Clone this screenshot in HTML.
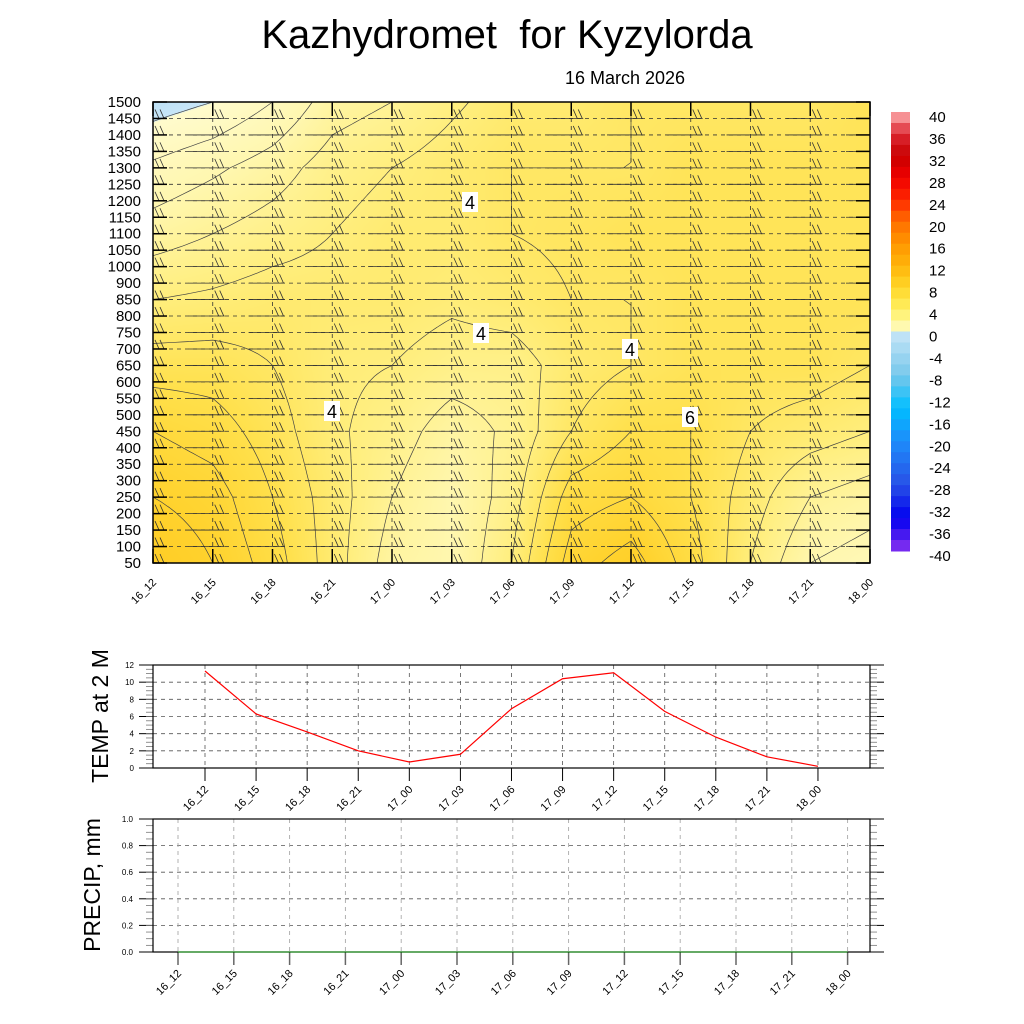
<!DOCTYPE html>
<html><head><meta charset="utf-8">
<style>
body{margin:0;background:#fff;}
#wrap{position:relative;width:1024px;height:1024px;overflow:hidden;font-family:"Liberation Sans",sans-serif;}
svg text{font-family:"Liberation Sans",sans-serif;}
</style></head>
<body>
<div id="wrap">
<canvas id="cv" width="717" height="461" style="position:absolute;left:153px;top:102px;"></canvas>
<svg id="sv" width="1024" height="1024" style="position:absolute;left:0;top:0;"></svg>
</div>
<script>
const times=["16_12","16_15","16_18","16_21","17_00","17_03","17_06","17_09","17_12","17_15","17_18","17_21","18_00"];
const levels=[50,100,150,200,250,300,350,400,450,500,550,600,650,700,750,800,850,900,1000,1050,1100,1150,1200,1250,1300,1350,1400,1450,1500];
const keyRows=[0,4,8,12,16,20,24,28];
const tRow50=[9,8,6.5,4.5,2.5,2,4,7.5,8.5,6.5,4,2,1.5];
const tRow250=[8,7.5,6,4.5,3,2,3.5,6.5,7,6,4.5,3,2.5];
const tRow450=[7,6.5,5.5,4.2,3.5,2.5,3.2,5,6,6,5,4.5,4];
const tRow650=[5.5,5.5,5,4.2,4,3.5,3.5,4.5,5,5.5,5.5,5.5,5];
const tRow850=[4,4.2,4.5,4.5,4.5,4.2,4.5,5,5,5.5,5.5,5.5,5.5];
const tRow1100=[2.5,3,3.5,4,4.5,4.5,5,5.2,5.5,5.5,5.5,5.5,5.5];
const tRow1300=[1.2,1.8,2.5,3.5,4,4.5,5,5,5,5.5,5.5,5.5,5.5];
const tRow1500=[-0.5,0,1,2.5,3,3.8,4.5,4.5,5,5,5,5,5.5];
const temp2m=[11.3,6.3,4.2,2.0,0.7,1.6,6.9,10.4,11.1,6.6,3.6,1.3,0.2];
const precip=[0,0,0,0,0,0,0,0,0,0,0,0,0];
const tempTicks=[0,2,4,6,8,10,12];
const precipTicks=["0.0","0.2","0.4","0.6","0.8","1.0"];
const cbLabels=[40,36,32,28,24,20,16,12,8,4,0,-4,-8,-12,-16,-20,-24,-28,-32,-36,-40];

const NS="http://www.w3.org/2000/svg";
const sv=document.getElementById('sv');
function el(tag,attrs,parent){const e=document.createElementNS(NS,tag);for(const k in attrs)e.setAttribute(k,attrs[k]);(parent||sv).appendChild(e);return e;}

const MX0=153,MX1=870,MY0=102,MY1=563;
const mx=i=>MX0+i*(MX1-MX0)/12;
const my=j=>MY1-j*(MY1-MY0)/28;
const rows=[tRow50,tRow250,tRow450,tRow650,tRow850,tRow1100,tRow1300,tRow1500];
function tAt(fi,fj){
  let k=0;while(k<keyRows.length-2&&fj>keyRows[k+1])k++;
  const a=(fj-keyRows[k])/(keyRows[k+1]-keyRows[k]);
  const i0=Math.min(11,Math.floor(fi)),b=fi-i0;
  const r0=rows[k],r1=rows[k+1];
  const v0=r0[i0]*(1-b)+r0[i0+1]*b,v1=r1[i0]*(1-b)+r1[i0+1]*b;
  return v0*(1-a)+v1*a;
}
const cstops=[[-2,[160,210,240]],[0,[200,230,248]],[0.01,[255,251,205]],[2,[255,247,175]],[4,[255,238,125]],[6,[255,224,75]],[8,[255,210,45]],[10,[255,200,30]]];
function tcol(t){
  if(t<=cstops[0][0])return cstops[0][1];
  for(let k=0;k<cstops.length-1;k++){if(t<=cstops[k+1][0]){const a=(t-cstops[k][0])/(cstops[k+1][0]-cstops[k][0]);return cstops[k][1].map((c,q)=>Math.round(c+(cstops[k+1][1][q]-c)*a));}}
  return cstops[cstops.length-1][1];
}
const cv=document.getElementById('cv'),ctx=cv.getContext('2d');
const img=ctx.createImageData(717,461);
for(let y=0;y<461;y++)for(let x=0;x<717;x++){
  const fi=x/717*12,fj=(461-y)/461*28;
  const c=tcol(tAt(fi,fj));const p=(y*717+x)*4;
  img.data[p]=c[0];img.data[p+1]=c[1];img.data[p+2]=c[2];img.data[p+3]=255;
}
ctx.putImageData(img,0,0);

// contour lines via marching squares
const NX=96,NY=84;
const gc=el('g',{stroke:'#444','stroke-width':0.7,fill:'none'});

let dpath='';
const G=[];for(let a=0;a<=NX;a++){G[a]=[];for(let b=0;b<=NY;b++)G[a][b]=tAt(a/NX*12,b/NY*28);}
const gx=a=>MX0+a/NX*(MX1-MX0), gy=b=>MY1-b/NY*(MY1-MY0);
for(let lv=0;lv<=9;lv++){
  for(let a=0;a<NX;a++)for(let b=0;b<NY;b++){
    const c=[[a,b],[a+1,b],[a+1,b+1],[a,b+1]];
    const pts=[];
    for(let e=0;e<4;e++){const p=c[e],q=c[(e+1)%4];const v1=G[p[0]][p[1]]-lv,v2=G[q[0]][q[1]]-lv;
      if((v1<0)!==(v2<0)){const s=v1/(v1-v2);pts.push([gx(p[0]+(q[0]-p[0])*s),gy(p[1]+(q[1]-p[1])*s)]);}}
    if(pts.length>=2)dpath+=`M${pts[0][0].toFixed(1)},${pts[0][1].toFixed(1)}L${pts[1][0].toFixed(1)},${pts[1][1].toFixed(1)}`;
    if(pts.length===4)dpath+=`M${pts[2][0].toFixed(1)},${pts[2][1].toFixed(1)}L${pts[3][0].toFixed(1)},${pts[3][1].toFixed(1)}`;
  }
}
el('path',{d:dpath},gc);

const defs=el('defs',{});
const cp=el('clipPath',{id:'mclip'},defs);el('rect',{x:MX0,y:MY0,width:MX1-MX0,height:MY1-MY0},cp);

for(let i=1;i<12;i++){const l=el('line',{x1:mx(i),x2:mx(i),y1:MY0,y2:MY1,stroke:'#333','stroke-width':0.8,'stroke-dasharray':'4,4'});
}
for(let j=1;j<28;j++){const l=el('line',{x1:MX0,x2:MX1,y1:my(j),y2:my(j),stroke:'#333','stroke-width':0.8,'stroke-dasharray':'4,4'});
}
const gb=el('g',{stroke:'#333','stroke-width':0.8,fill:'none','clip-path':'url(#mclip)'});

for(let i=0;i<13;i++)for(let j=0;j<29;j++){
  const x=mx(i),y=my(j);
  el('path',{d:`M${x-24},${y}H${x+12}M${x+2},${y-9}L${x+6},${y}M${x+7},${y-9}L${x+11},${y}`},gb);
}
for(let j=0;j<29;j++){el('line',{x1:MX0,x2:MX0+14,y1:my(j),y2:my(j),stroke:'#000','stroke-width':1.5});el('line',{x1:MX1-14,x2:MX1,y1:my(j),y2:my(j),stroke:'#000','stroke-width':1.5});}
for(let i=0;i<13;i++){el('line',{x1:mx(i),x2:mx(i),y1:MY1,y2:MY1-14,stroke:'#000','stroke-width':1.5});el('line',{x1:mx(i),x2:mx(i),y1:MY0,y2:MY0+14,stroke:'#000','stroke-width':1.5});}
const fr=el('rect',{x:MX0,y:MY0,width:MX1-MX0,height:MY1-MY0,fill:'none',stroke:'#000','stroke-width':1.5});

[[470,202,'4'],[481,333,'4'],[630,349,'4'],[332,411,'4'],[690,417,'6']].forEach(a=>{
  el('rect',{x:a[0]-8,y:a[1]-10,width:16,height:20,fill:'#fff'});
  const t=el('text',{x:a[0],y:a[1]+7,'font-size':18,'text-anchor':'middle'});t.textContent=a[2];
  
});
levels.forEach((v,j)=>{const t=el('text',{x:141,y:my(j)+5,'font-size':15,'text-anchor':'end'});t.textContent=v;
});
function xlab(x,y,s,fs){const t=el('text',{x:x,y:y,'font-size':fs,'text-anchor':'end',transform:`rotate(-45 ${x} ${y})`});t.textContent=s;
}
times.forEach((s,i)=>xlab(mx(i)+4,MY1+20,s,11));

function lerp(a,b,t){return a.map((c,q)=>Math.round(c+(b[q]-c)*t));}
const cbStops=[[40,[255,180,180]],[36,[220,40,50]],[32,[200,0,0]],[28,[240,0,0]],[24,[255,40,0]],[20,[255,110,0]],[16,[255,150,0]],[12,[255,180,10]],[8,[255,215,40]],[4,[255,240,100]],[0,[255,252,200]],[-0.01,[200,230,248]],[-8,[120,200,235]],[-14,[0,190,255]],[-20,[30,140,250]],[-28,[40,80,230]],[-34,[0,0,240]],[-40,[140,50,240]]];
function cbc(v){for(let k=0;k<cbStops.length-1;k++){if(v<=cbStops[k][0]&&v>=cbStops[k+1][0]){return lerp(cbStops[k][1],cbStops[k+1][1],(cbStops[k][0]-v)/(cbStops[k][0]-cbStops[k+1][0]));}}return cbStops[cbStops.length-1][1];}
const CBY0=112,CBY1=551,CBH=(CBY1-CBY0)/40;
const gcb=el('g',{});
for(let k=0;k<40;k++){const v=40-k*2-1;const c=cbc(v);el('rect',{x:891,y:CBY0+k*CBH,width:19,height:CBH+0.5,fill:`rgb(${c})`},gcb);}
cbLabels.forEach((v,k)=>{const t=el('text',{x:929,y:CBY0+5+k*2*CBH+5,'font-size':15});t.textContent=v;
});

let t=el('text',{x:507,y:48,'font-size':40,'text-anchor':'middle'});t.textContent='Kazhydromet\u00a0\u00a0for Kyzylorda';

t=el('text',{x:625,y:84,'font-size':18,'text-anchor':'middle'});t.textContent='16 March 2026';


const TX0=153,TX1=870,TY0=665,TY1=768;
const tx=i=>205+i*51.08, ty=v=>TY1-v/12*(TY1-TY0);
tempTicks.forEach(v=>{
  if(v>0&&v<12)el('line',{x1:TX0,x2:TX1,y1:ty(v),y2:ty(v),stroke:'#555','stroke-width':0.8,'stroke-dasharray':'4,4'});
  const q=el('text',{x:TX0-19,y:ty(v)+3,'font-size':8,'text-anchor':'end'});q.textContent=v;
  
  el('line',{x1:TX0-14,x2:TX0,y1:ty(v),y2:ty(v),stroke:'#000'});el('line',{x1:TX1,x2:TX1+14,y1:ty(v),y2:ty(v),stroke:'#000'});
});
for(let v=0.5;v<12;v+=0.5){el('line',{x1:TX0-7,x2:TX0,y1:ty(v),y2:ty(v),stroke:'#777','stroke-width':0.8});el('line',{x1:TX1,x2:TX1+7,y1:ty(v),y2:ty(v),stroke:'#777','stroke-width':0.8});}
times.forEach((s,i)=>{el('line',{x1:tx(i),x2:tx(i),y1:TY0,y2:TY1,stroke:'#555','stroke-width':0.8,'stroke-dasharray':'4,4'});
el('line',{x1:tx(i),x2:tx(i),y1:TY1,y2:TY1+13,stroke:'#000','stroke-width':1});xlab(tx(i)+4,TY1+22,s,11);});
el('rect',{x:TX0,y:TY0,width:TX1-TX0,height:TY1-TY0,fill:'none',stroke:'#000','stroke-width':1.2});
const tl=el('polyline',{points:temp2m.map((v,i)=>tx(i)+','+ty(v)).join(' '),fill:'none',stroke:'#f00','stroke-width':1.2});

t=el('text',{x:108,y:716,'font-size':23,'text-anchor':'middle',transform:'rotate(-90 108 716)'});t.textContent='TEMP at 2 M';


const PX0=153,PX1=870,PY0=819,PY1=952;
const px=i=>178+i*55.8, py=v=>PY1-v*(PY1-PY0);
precipTicks.forEach(s=>{const v=parseFloat(s);
  if(v>0&&v<1)el('line',{x1:PX0,x2:PX1,y1:py(v),y2:py(v),stroke:'#555','stroke-width':0.8,'stroke-dasharray':'4,4'});
  const q=el('text',{x:PX0-20,y:py(v)+3,'font-size':8,'text-anchor':'end'});q.textContent=s;
  
  el('line',{x1:PX0-14,x2:PX0,y1:py(v),y2:py(v),stroke:'#000'});el('line',{x1:PX1,x2:PX1+14,y1:py(v),y2:py(v),stroke:'#000'});
});
for(let v=0.05;v<1;v+=0.05){el('line',{x1:PX0-7,x2:PX0,y1:py(v),y2:py(v),stroke:'#777','stroke-width':0.8});el('line',{x1:PX1,x2:PX1+7,y1:py(v),y2:py(v),stroke:'#777','stroke-width':0.8});}
times.forEach((s,i)=>{el('line',{x1:px(i),x2:px(i),y1:PY0,y2:PY1,stroke:'#aaa','stroke-width':0.9,'stroke-dasharray':'4,4'});
el('line',{x1:px(i),x2:px(i),y1:PY1,y2:PY1+13,stroke:'#666','stroke-width':1.5});xlab(px(i)+4,PY1+22,s,11);});
el('rect',{x:PX0,y:PY0,width:PX1-PX0,height:PY1-PY0,fill:'none',stroke:'#000','stroke-width':1.2});
const pl=el('polyline',{points:precip.map((v,i)=>px(i)+','+py(v)).join(' '),fill:'none',stroke:'#080','stroke-width':1});

t=el('text',{x:100,y:885,'font-size':23,'text-anchor':'middle',transform:'rotate(-90 100 885)'});t.textContent='PRECIP, mm';

</script>
</body></html>
